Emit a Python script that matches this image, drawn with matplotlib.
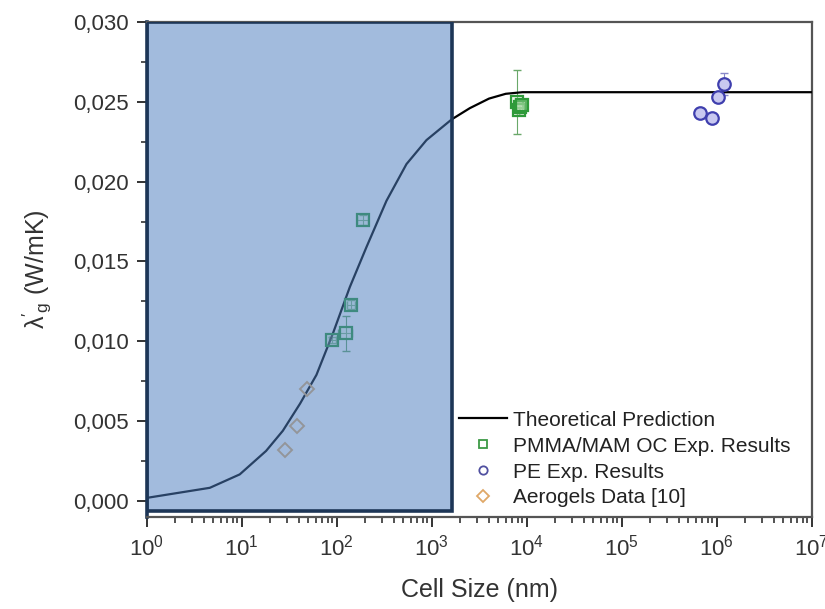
import matplotlib
matplotlib.use('Agg')
import matplotlib.pyplot as plt
from matplotlib.patches import Rectangle
from matplotlib.ticker import FixedLocator, LogLocator, NullFormatter
import numpy as np

plt.rcParams['font.family'] = ['Liberation Sans', 'DejaVu Sans']
plt.rcParams['mathtext.fontset'] = 'custom'
plt.rcParams['mathtext.rm'] = 'Liberation Sans'
plt.rcParams['mathtext.it'] = 'Liberation Sans:italic'

# theoretical prediction (cell size nm, conductivity W/mK)
theory_x = [1, 4.6, 9.5, 18, 27, 41, 61, 91, 137, 205, 333, 541, 878, 1620, 2510,
            4000, 6000, 9000, 1e7]
theory_y = [0.0002, 0.00083, 0.00167, 0.00314, 0.0044, 0.0061, 0.0079, 0.0105, 0.0134,
            0.0159, 0.0188, 0.0211, 0.0226, 0.0239, 0.0246, 0.0252, 0.0255, 0.0256, 0.0256]

# PMMA/MAM open cell
pmma_x = [190, 142, 90, 124, 7800, 8200, 8500, 8800]
pmma_y = [0.0176, 0.0123, 0.0101, 0.0105, 0.0250, 0.0245, 0.0247, 0.0248]
pmma_yerr = [0.0003, 0.0003, 0.0002, 0.0011, 0.0020, 0.0003, 0.0003, 0.0003]
pmma_xerr = [25, 15, 8, 20, 300, 300, 300, 300]

# PE
pe_x = [6.6e5, 8.9e5, 1.02e6, 1.18e6]
pe_y = [0.0243, 0.0240, 0.0253, 0.0261]
pe_yerr = [0.0002, 0.0002, 0.0003, 0.0007]

# aerogels
aero_x = [28.5, 38, 48]
aero_y = [0.0032, 0.0047, 0.0070]

yticks = [0.000, 0.005, 0.010, 0.015, 0.020, 0.025, 0.030]
ytick_labels = ['0,000', '0,005', '0,010', '0,015', '0,020', '0,025', '0,030']

# shaded region
region_x = (1, 1620)
region_y = (-0.0006, 0.030)

fig = plt.figure(figsize=(8.25, 6.09), dpi=100)
ax = fig.add_axes([0.178, 0.151, 0.806, 0.813])

ax.plot(theory_x, theory_y, color='black', lw=1.6, label='Theoretical Prediction', zorder=3)

ax.errorbar(pmma_x, pmma_y, yerr=pmma_yerr, xerr=pmma_xerr, fmt='none',
            ecolor='#6aa86a', elinewidth=0.8, capsize=3, zorder=2)
ax.plot(pmma_x, pmma_y, ls='none', marker='s', ms=8, mfc=(0.8, 0.93, 0.78, 0.3), mec='#2f9a3a',
        mew=1.6, zorder=4)
ax.errorbar(pe_x, pe_y, yerr=pe_yerr, fmt='none', ecolor='#8888c8', elinewidth=0.8,
            capsize=3, zorder=2)
ax.plot(pe_x, pe_y, ls='none', marker='o', ms=9, mfc='#c8c8f0', mec='#3f3fae', mew=1.6, zorder=4)
ax.plot(aero_x, aero_y, ls='none', marker='D', ms=7, mfc='none', mec='#e0b070', mew=1.4, zorder=4)

# legend handles
ax.plot([], [], ls='none', marker='s', ms=6, mfc='none', mec='#3d9a45', mew=1.3,
        label='PMMA/MAM OC Exp. Results')
ax.plot([], [], ls='none', marker='o', ms=6, mfc='none', mec='#5050a0', mew=1.3,
        label='PE Exp. Results')
ax.plot([], [], ls='none', marker='D', ms=6, mfc='none', mec='#e0a868', mew=1.3,
        label='Aerogels Data [10]')

rect = Rectangle((region_x[0], region_y[0]), region_x[1] - region_x[0], region_y[1] - region_y[0],
                 facecolor=(0.30, 0.49, 0.75, 0.52), edgecolor='#1d3657', lw=2.6, zorder=5)
ax.add_patch(rect)

ax.set_xscale('log')
ax.set_xlim(1, 1e7)
ax.set_ylim(-0.001, 0.030)

ax.yaxis.set_major_locator(FixedLocator(yticks))
ax.set_yticklabels(ytick_labels)
ax.yaxis.set_minor_locator(FixedLocator(np.arange(0.0025, 0.030, 0.005)))
ax.xaxis.set_major_locator(LogLocator(base=10, numticks=10))
ax.xaxis.set_minor_locator(LogLocator(base=10, subs=np.arange(2, 10), numticks=100))
ax.xaxis.set_minor_formatter(NullFormatter())

ax.tick_params(which='major', direction='out', length=7, width=1.4, labelsize=16, pad=6,
               colors='#333333')
ax.tick_params(which='minor', direction='out', length=4, width=1.2, colors='#333333')
ax.tick_params(axis='x', labelsize=16)

for side in ['top', 'right', 'bottom']:
    ax.spines[side].set_color('#555555')
    ax.spines[side].set_linewidth(1.6)
ax.spines['left'].set_color('#1d3657')
ax.spines['left'].set_linewidth(2.6)

ax.set_xlabel('Cell Size (nm)', fontsize=18, labelpad=12, color='#333333')
ax.set_ylabel(r"$\mathrm{\lambda'_g}$ (W/mK)", fontsize=18, labelpad=14, color='#333333')

leg = ax.legend(loc='lower left', bbox_to_anchor=(0.448, -0.01), frameon=False, fontsize=15,
                handlelength=2.3, handletextpad=0.3, labelspacing=0.33, borderaxespad=0.3)
for t in leg.get_texts():
    t.set_color('#222222')

fig.savefig('out.png', dpi=100)
